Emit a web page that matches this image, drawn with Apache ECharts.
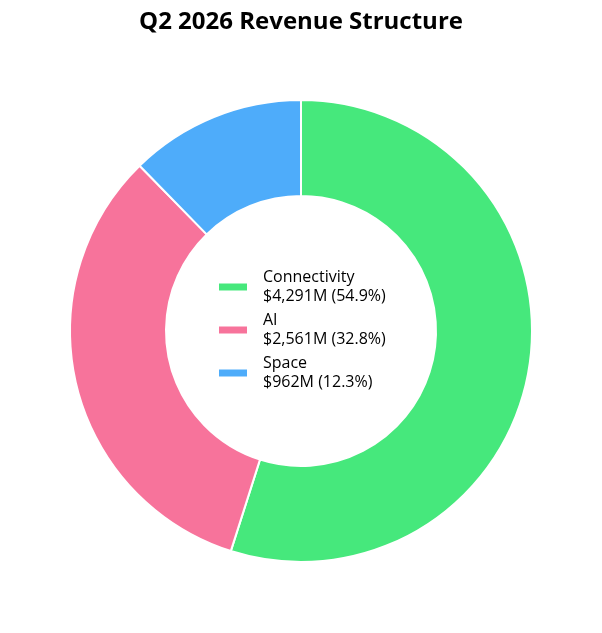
<!DOCTYPE html>
<html>
<head>
<meta charset="utf-8">
<script src="https://cdn.jsdelivr.net/npm/echarts@6/dist/echarts.min.js"></script>
<style>
  html, body { margin: 0; padding: 0; background: #fff; }
  #main { width: 602px; height: 633px; }
</style>
</head>
<body>
<div id="main"></div>
<script>
    // revenue by segment, $M
    var segments = ['Connectivity', 'AI', 'Space'];
    var revenue = [4291, 2561, 962];
    var shares = [54.9, 32.8, 12.3];
    var colors = ['#46E87C', '#F7739B', '#4EACFA'];

    var myChart = echarts.init(document.getElementById('main'));

    var data = [];
    for (var i = 0; i < segments.length; i++) {
        data.push({ value: revenue[i], name: segments[i], itemStyle: { color: colors[i] } });
    }

    function fmtMoney(v) {
        return '$' + v.toString().replace(/\B(?=(\d{3})+(?!\d))/g, ',') + 'M';
    }

    var option = {
        backgroundColor: '#fff',
        title: {
            text: 'Q2 2026 Revenue Structure',
            left: 'center',
            top: 5,
            textStyle: {
                fontFamily: 'Open Sans',
                fontSize: 24,
                fontWeight: 'bold',
                color: '#000'
            }
        },
        legend: {
            orient: 'vertical',
            left: 217,
            top: 268,
            padding: 0,
            itemWidth: 30,
            itemHeight: 9,
            itemGap: 5,
            icon: 'rect',
            data: segments,
            formatter: function (name) {
                var idx = segments.indexOf(name);
                return name + '\n' + fmtMoney(revenue[idx]) + ' (' + shares[idx].toFixed(1) + '%)';
            },
            textStyle: {
                fontFamily: 'Open Sans',
                fontSize: 16,
                lineHeight: 19,
                color: '#000',
                padding: [0, 0, 0, 10]
            }
        },
        series: [
            {
                name: 'Revenue',
                type: 'pie',
                center: ['50%', 331],
                radius: [135, 231],
                startAngle: 90,
                clockwise: true,
                label: { show: false },
                labelLine: { show: false },
                itemStyle: { borderColor: '#fff', borderWidth: 2 },
                emphasis: { disabled: true },
                data: data
            }
        ]
    };
    myChart.setOption(option);
</script>
</body>
</html>
